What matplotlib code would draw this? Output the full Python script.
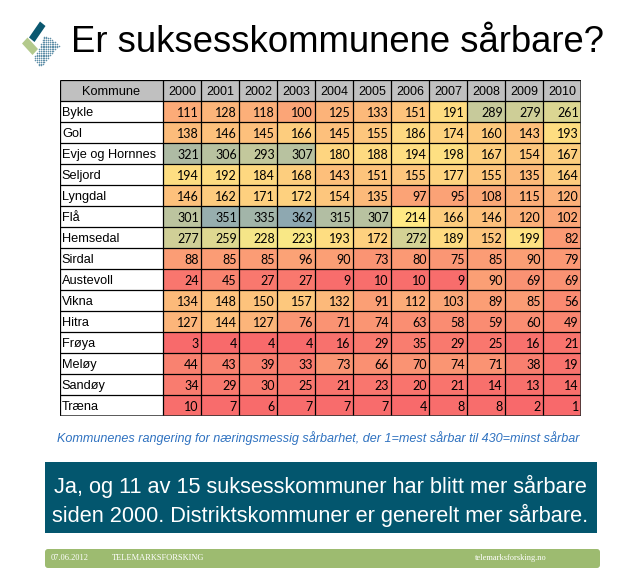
import matplotlib
matplotlib.use("Agg")
import matplotlib.pyplot as plt
import numpy as np
from matplotlib.colors import LinearSegmentedColormap, Normalize
from matplotlib.patches import Polygon, FancyBboxPatch, Rectangle
from matplotlib.path import Path

# --- data: ranking 1 (most vulnerable) .. 430 (least) ---
kommuner = ["Bykle", "Gol", "Evje og Hornnes", "Seljord", "Lyngdal", "Flå",
            "Hemsedal", "Sirdal", "Austevoll", "Vikna", "Hitra", "Frøya",
            "Meløy", "Sandøy", "Træna"]
years = [2000, 2001, 2002, 2003, 2004, 2005, 2006, 2007, 2008, 2009, 2010]
bykle = [111, 128, 118, 100, 125, 133, 151, 191, 289, 279, 261]
gol = [138, 146, 145, 166, 145, 155, 186, 174, 160, 143, 193]
evje = [321, 306, 293, 307, 180, 188, 194, 198, 167, 154, 167]
seljord = [194, 192, 184, 168, 143, 151, 155, 177, 155, 135, 164]
lyngdal = [146, 162, 171, 172, 154, 135, 97, 95, 108, 115, 120]
flaa = [301, 351, 335, 362, 315, 307, 214, 166, 146, 120, 102]
hemsedal = [277, 259, 228, 223, 193, 172, 272, 189, 152, 199, 82]
sirdal = [88, 85, 85, 96, 90, 73, 80, 75, 85, 90, 79]
austevoll = [24, 45, 27, 27, 9, 10, 10, 9, 90, 69, 69]
vikna = [134, 148, 150, 157, 132, 91, 112, 103, 89, 85, 56]
hitra = [127, 144, 127, 76, 71, 74, 63, 58, 59, 60, 49]
froya = [3, 4, 4, 4, 16, 29, 35, 29, 25, 16, 21]
meloy = [44, 43, 39, 33, 73, 66, 70, 74, 71, 38, 19]
sandoy = [34, 29, 30, 25, 21, 23, 20, 21, 14, 13, 14]
traena = [10, 7, 6, 7, 7, 7, 4, 8, 8, 2, 1]
rank_min, rank_max = 1, 430

values = np.array([bykle, gol, evje, seljord, lyngdal, flaa, hemsedal, sirdal,
                   austevoll, vikna, hitra, froya, meloy, sandoy, traena])

W, H = 639, 575
fig = plt.figure(figsize=(W / 100, H / 100), dpi=100)
fig.patch.set_facecolor("white")

# background axes in pixel coords for slide decoration
bg = fig.add_axes([0, 0, 1, 1])
bg.set_xlim(0, W)
bg.set_ylim(H, 0)
bg.axis("off")

# logo
bg.add_patch(Polygon([(29, 37.5), (40, 21.5), (45.5, 26), (34.5, 42)],
                     closed=True, color="#0b5870", lw=0))
bg.add_patch(Polygon([(22, 43.5), (27.5, 37.5), (38, 49), (32.5, 55)],
                     closed=True, color="#b3c98c", lw=0))
dot_area = Path([(34, 58), (45, 35), (60, 45), (40, 67)])
gx, gy = np.meshgrid(np.arange(30, 62, 1.8), np.arange(33, 68, 1.8))
pts = np.column_stack([gx.ravel(), gy.ravel()])
pts = pts[dot_area.contains_points(pts)]
bg.scatter(pts[:, 0], pts[:, 1], s=1.3, color="#5f8fa8", lw=0)

bg.text(71, 42, "Er suksesskommunene sårbare?", fontsize=26.3,
        family="Liberation Sans", va="center", ha="left", color="black")

# subtitle
bg.text(318, 438, "Kommunenes rangering for næringsmessig sårbarhet, der 1=mest sårbar til 430=minst sårbar",
        fontsize=9.1, style="italic", family="Liberation Sans", color="#2f72c0",
        ha="center", va="center")

# dark message box
bg.add_patch(Rectangle((45, 462), 552, 71, color="#03566e", lw=0))
bg.text(320, 486, "Ja, og 11 av 15 suksesskommuner har blitt mer sårbare",
        fontsize=15.7, family="Liberation Sans", color="white", ha="center", va="center")
bg.text(320, 515, "siden 2000. Distriktskommuner er generelt mer sårbare.",
        fontsize=15.7, family="Liberation Sans", color="white", ha="center", va="center")

# footer bar
bg.add_patch(FancyBboxPatch((45, 549), 555, 19, boxstyle="round,pad=0,rounding_size=3",
                            color="#9dbb70", lw=0))
bg.text(51, 558, "07.06.2012", fontsize=6, family="Liberation Serif", color="white", va="center")
bg.text(112, 558, "TELEMARKSFORSKING", fontsize=6, family="Liberation Serif", color="white", va="center")
bg.text(475, 558, "telemarksforsking.no", fontsize=6, family="Liberation Serif", color="white", va="center")

# --- table ---
x0, x1, y0, y1 = 60, 581, 80, 416
tab = fig.add_axes([x0 / W, 1 - y1 / H, (x1 - x0) / W, (y1 - y0) / H])
ncol = len(years)
col_w = (x1 - x0 - 103) / ncol
name_w = 103 / col_w
nrow = len(kommuner)
tab.set_xlim(0, name_w + ncol)
tab.set_ylim(nrow + 1, 0)
tab.axis("off")

cmap = LinearSegmentedColormap.from_list("ryb", ["#f8696b", "#ffeb84", "#5a8ac6"])
norm = Normalize(rank_min, rank_max)
xe = name_w + np.arange(ncol + 1)
ye = 1 + np.arange(nrow + 1)
tab.pcolormesh(xe, ye, values, cmap=cmap, norm=norm, shading="flat")
tab.add_patch(Rectangle((0, 0), name_w + ncol, 1, color="#c0c0c0", lw=0))

tab.text(name_w / 2, 0.55, "Kommune", ha="center", va="center", fontsize=9.2,
         family="Liberation Sans")
for j, yr in enumerate(years):
    tab.text(name_w + j + 0.5, 0.55, str(yr), ha="center", va="center", fontsize=9,
             family="Liberation Sans")
for i, name in enumerate(kommuner):
    tab.text(0.05, i + 1.55, name, ha="left", va="center", fontsize=9.2,
             family="Liberation Sans")
    for j in range(ncol):
        tab.text(name_w + j + 0.94, i + 1.55, str(values[i, j]), ha="right", va="center",
                 fontsize=9, family="Lato")

tab.hlines(np.arange(nrow + 2), 0, name_w + ncol, color="black", lw=0.9)
tab.vlines(np.concatenate([[0], xe]), 0, nrow + 1, color="black", lw=0.9)
tab.hlines([nrow + 1], 0, name_w + ncol, color="#333333", lw=1.8)
tab.vlines([name_w + ncol], 0, nrow + 1, color="#333333", lw=1.8)

fig.savefig("out.png", dpi=100)
